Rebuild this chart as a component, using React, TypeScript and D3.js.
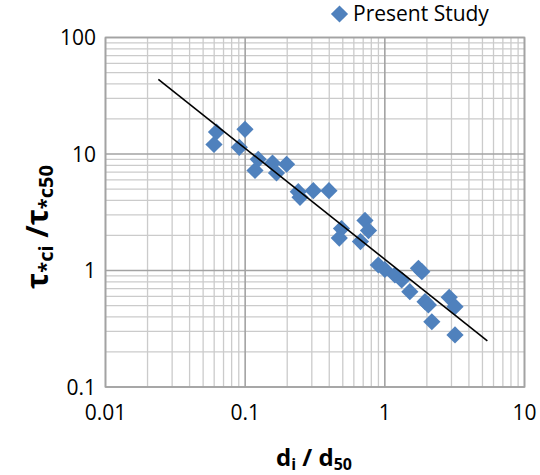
import React from "react";
import * as d3 from "d3";

const ratioD = [0.0623, 0.0598, 0.0997, 0.0908, 0.124, 0.1176, 0.157, 0.1676, 0.198, 0.24, 0.247, 0.3075, 0.398, 0.4895, 0.472, 0.721, 0.764, 0.669, 0.898, 1.0, 1.18, 1.32, 1.51, 1.74, 1.84, 1.94, 2.05, 2.17, 2.89, 3.18, 3.18];
const ratioTau = [15.45, 12.06, 16.3, 11.4, 9.0, 7.22, 8.37, 6.87, 8.17, 4.75, 4.25, 4.84, 4.84, 2.29, 1.9, 2.69, 2.2, 1.77, 1.115, 1.02, 0.915, 0.829, 0.658, 1.045, 0.977, 0.54, 0.506, 0.363, 0.589, 0.489, 0.28];
const trendX = [0.0239, 5.42];
const trendY = [43.8, 0.249];
const xTicks = [0.01, 0.1, 1, 10];
const yTicks = [0.1, 1, 10, 100];
const xTickLabels = ["0.01", "0.1", "1", "10"];
const yTickLabels = ["0.1", "1", "10", "100"];
const seriesName = "Present Study";

const W = 540, H = 475;
const L = 105.5, R = 524.5, T = 37.5, B = 387;
const FONT = "'Open Sans', sans-serif";
const BLUE = "#4F81BD";

function minorValues(min: number, max: number) {
  const out: number[] = [];
  for (let d = min; d < max * 0.999; d *= 10) {
    for (let m = 2; m <= 9; m++) out.push(d * m);
  }
  return out;
}

const diamond = (cx: number, cy: number, r: number) =>
  `M${cx},${cy - r}L${cx + r},${cy}L${cx},${cy + r}L${cx - r},${cy}Z`;

export default function App() {
  const x = d3.scaleLog().domain([0.01, 10]).range([L, R]);
  const y = d3.scaleLog().domain([0.1, 100]).range([B, T]);
  const xMinor = minorValues(0.01, 10);
  const yMinor = minorValues(0.1, 100);
  const line = d3.line<number>().x((_, i) => x(trendX[i])).y((_, i) => y(trendY[i]));
  return (
    <svg width={W} height={H} style={{ position: "absolute", left: 0, top: 0, background: "#fff" }}>
      <rect x={0} y={0} width={W} height={H} fill="#fff" />
      {xMinor.map((v, i) => (
        <line key={"xm" + i} x1={x(v)} x2={x(v)} y1={T} y2={B} stroke="#cbcbcb" strokeWidth={1.3} />
      ))}
      {yMinor.map((v, i) => (
        <line key={"ym" + i} x1={L} x2={R} y1={y(v)} y2={y(v)} stroke="#cbcbcb" strokeWidth={1.3} />
      ))}
      {xTicks.map((v, i) => (
        <line key={"xM" + i} x1={x(v)} x2={x(v)} y1={T} y2={B} stroke="#a3a3a3" strokeWidth={1.6} />
      ))}
      {yTicks.map((v, i) => (
        <line key={"yM" + i} x1={L} x2={R} y1={y(v)} y2={y(v)} stroke="#a3a3a3" strokeWidth={1.6} />
      ))}
      <rect x={L} y={T} width={R - L} height={B - T} fill="none" stroke="#a3a3a3" strokeWidth={1.6} />
      {ratioD.map((v, i) => (
        <path key={"p" + i} d={diamond(x(v), y(ratioTau[i]), 8.6)} fill={BLUE} />
      ))}
      <path d={line(trendX) || ""} stroke="#000" strokeWidth={1.6} fill="none" />
      {yTicks.map((v, i) => (
        <text key={"yl" + i} x={96} y={y(v)} dy="0.36em" textAnchor="end" fontFamily={FONT} fontSize={21} fill="#000">
          {yTickLabels[i]}
        </text>
      ))}
      {xTicks.map((v, i) => (
        <text key={"xl" + i} x={x(v)} y={420} textAnchor="middle" fontFamily={FONT} fontSize={21} fill="#000">
          {xTickLabels[i]}
        </text>
      ))}
      <path d={diamond(339.5, 14, 8.6)} fill={BLUE} />
      <text x={353} y={21} fontFamily={FONT} fontSize={21} fill="#000">{seriesName}</text>
      <text x={314} y={466} textAnchor="middle" fontFamily={FONT} fontWeight="bold" fontSize={24} fill="#000">
        <tspan>d</tspan>
        <tspan fontSize={16} dy={4}>i</tspan>
        <tspan dy={-4}> / d</tspan>
        <tspan fontSize={16} dy={4}>50</tspan>
      </text>
      <text transform="translate(48,227) rotate(-90)" textAnchor="middle" fontFamily={FONT} fontWeight="bold" fontSize={30} fill="#000">
        <tspan>τ</tspan>
        <tspan fontSize={20} dy={5}>*ci</tspan>
        <tspan dy={-5}> /τ</tspan>
        <tspan fontSize={20} dy={5}>*c50</tspan>
      </text>
    </svg>
  );
}
